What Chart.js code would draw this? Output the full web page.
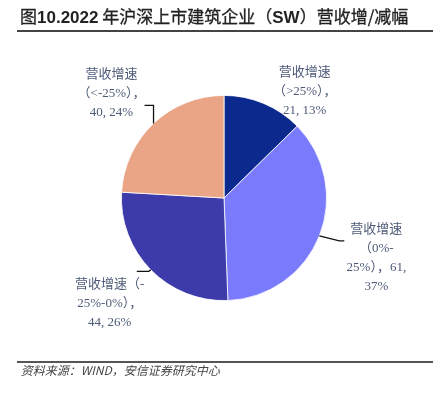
<!DOCTYPE html>
<html><head><meta charset="utf-8">
<script src="https://cdn.jsdelivr.net/npm/chart.js@4/dist/chart.umd.min.js"></script>
<style>
html,body{margin:0;padding:0;background:#fff;width:439px;height:394px;overflow:hidden}
#wrap{position:absolute;left:0;top:0;width:439px;height:394px}
#title{position:absolute;left:20px;top:3px;font-family:"Noto Sans CJK SC","Liberation Sans",sans-serif;font-size:17px;font-weight:400;color:#222;white-space:nowrap;-webkit-text-stroke:0.3px #222}
#title b{font-family:"Liberation Sans",Arial,sans-serif;font-weight:bold;-webkit-text-stroke:0}
#topline{position:absolute;left:17px;top:30px;width:416px;height:2px;background:#444}
#botline{position:absolute;left:17px;top:361px;width:416px;height:1.5px;background:#555}
#source{position:absolute;left:20px;top:361px;font-family:"Noto Sans CJK SC",sans-serif;font-size:12px;color:#444;white-space:nowrap;transform:skewX(-14deg);transform-origin:left bottom}
</style></head>
<body>
<div id="wrap"><canvas id="c" width="439" height="394"></canvas></div>
<div id="title">图<b>10.2022</b> 年沪深上市建筑企业（<b>SW</b>）营收增/减幅</div>
<div id="topline"></div>
<div id="botline"></div>
<div id="source">资料来源：WIND，安信证券研究中心</div>
<script>
const categories = ["营收增速（>25%）", "营收增速（0%-25%）", "营收增速（-25%-0%）", "营收增速（<-25%）"];
const counts = [21, 61, 44, 40];
const percents = ["13%", "37%", "26%", "24%"];
const colors = ["#0C2A8E", "#7A7AFC", "#3D3BAA", "#E9A586"];

// label text lines (as wrapped in the reference)
const labelLines = [
  ["营收增速", "（>25%），", "21, 13%"],
  ["营收增速", "（0%-", "25%），61,", "37%"],
  ["营收增速（-", "25%-0%），", "44, 26%"],
  ["营收增速", "（<-25%），", "40, 24%"]
];
// label anchor offsets relative to slice edge midpoint (dx, dy of text block centre-top), and leader flag
const labelPlace = [
  {dx: 41, dy: -31, leader: null},
  {dx: 57, dy: -6, leader: "right"},
  {dx: -41, dy: 15, leader: "left"},
  {dx: -42, dy: -49, leader: "up"}
];

const labelPlugin = {
  id: "labels",
  afterDatasetsDraw(chart) {
    const ctx = chart.ctx;
    const meta = chart.getDatasetMeta(0);
    ctx.save();
    ctx.font = '13px "Liberation Serif", "Noto Sans CJK SC", serif';
    ctx.textAlign = "center";
    ctx.textBaseline = "middle";
    const lh = 19;
    meta.data.forEach((arc, i) => {
      const p = arc.getProps(["x", "y", "startAngle", "endAngle", "outerRadius"], true);
      const mid = (p.startAngle + p.endAngle) / 2;
      const ex = p.x + Math.cos(mid) * p.outerRadius;
      const ey = p.y + Math.sin(mid) * p.outerRadius;
      const pl = labelPlace[i];
      const lines = labelLines[i];
      const cx = ex + pl.dx;
      const top = ey + pl.dy;
      ctx.fillStyle = "#4E5B78";
      lines.forEach((t, k) => ctx.fillText(t, cx, top + k * lh));
      ctx.strokeStyle = "#111";
      ctx.lineWidth = 1.3;
      if (pl.leader === "up") {
        ctx.beginPath();
        ctx.moveTo(ex, ey);
        ctx.lineTo(ex, ey - 18);
        ctx.lineTo(ex - 9, ey - 18);
        ctx.stroke();
      } else if (pl.leader === "right") {
        ctx.beginPath();
        ctx.moveTo(ex, ey);
        ctx.lineTo(ex + 20, ey + 5);
        ctx.lineTo(ex + 25, ey + 5);
        ctx.stroke();
      } else if (pl.leader === "left") {
        ctx.beginPath();
        ctx.moveTo(ex, ey);
        ctx.lineTo(ex - 2, ey + 1.5);
        ctx.lineTo(ex - 14, ey + 1.5);
        ctx.stroke();
      }
    });
    ctx.restore();
  }
};

new Chart(document.getElementById("c"), {
  type: "pie",
  data: {
    labels: categories,
    datasets: [{
      data: counts,
      backgroundColor: colors,
      borderColor: "#ffffff",
      borderWidth: 0.8
    }]
  },
  options: {
    responsive: false,
    animation: false,
    layout: {padding: {top: 95, bottom: 93, left: 121, right: 112}},
    plugins: {legend: {display: false}, tooltip: {enabled: false}}
  },
  plugins: [labelPlugin]
});
</script>
</body></html>
